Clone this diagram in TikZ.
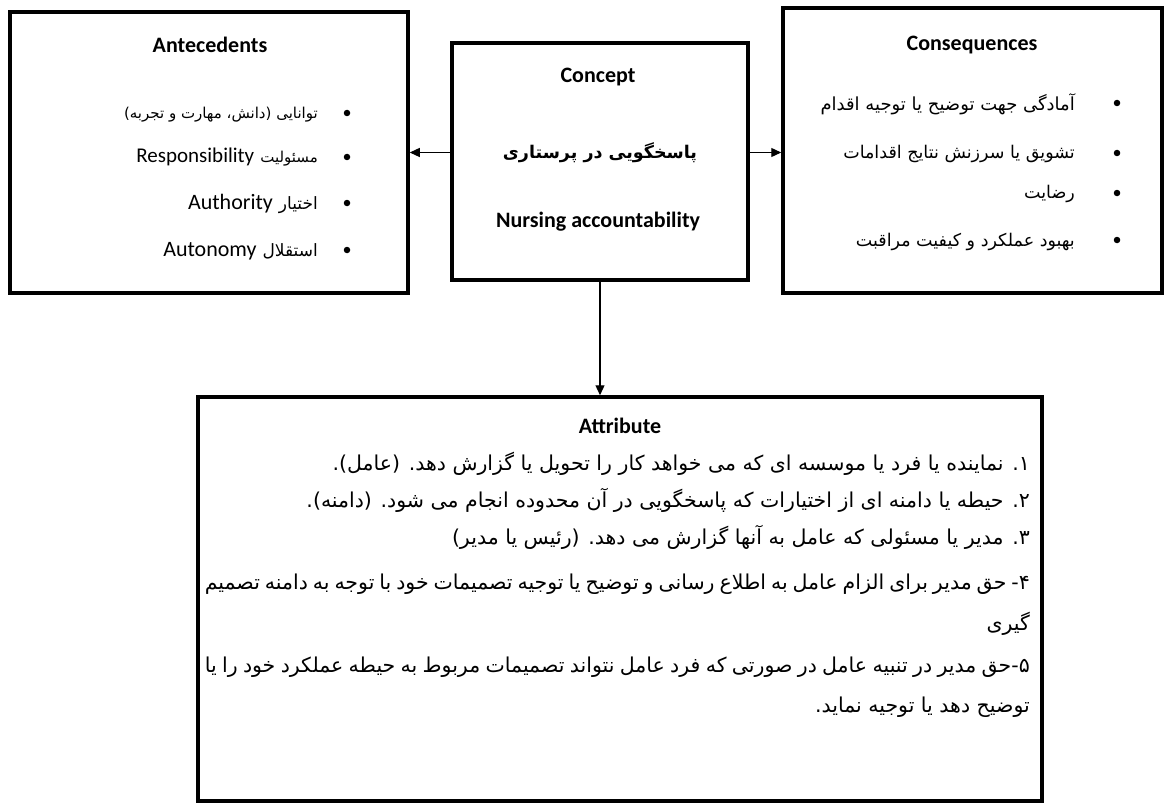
\documentclass[tikz,border=0pt]{standalone}
\usepackage{fontspec}
\setmainfont{Carlito}
\newfontfamily\fa[Script=Arabic]{DejaVu Sans}
\TeXXeTstate=1
\usetikzlibrary{arrows.meta}
\begin{document}
\begin{tikzpicture}[x=1pt,y=-1pt,
  box/.style={draw=black, line width=3.5pt, fill=white, inner sep=0pt},
  conn/.style={line width=1.3pt, -{Triangle[length=10pt,width=9pt]}},
  ttl/.style={inner sep=0pt, font=\fontsize{22}{26}\selectfont\bfseries},
  item/.style={anchor=base east, inner sep=0pt},
  bul/.style={circle, fill=black, inner sep=0pt, minimum size=6.5pt},
  attl/.style={anchor=base east, inner sep=0pt},
  attf/.style={font=\fa\fontsize{20.5}{24}\selectfont},
]
\useasboundingbox (0,0) rectangle (1166,805);
\fill[white] (0,0) rectangle (1166,805);

% boxes
\node[box, minimum width=398pt, minimum height=281pt] (ante) at (209,152.5) {};
\node[box, minimum width=296pt, minimum height=237pt] (concept) at (600,161.5) {};
\node[box, minimum width=379pt, minimum height=285pt] (cons) at (972.5,150.5) {};
\node[box, minimum width=844pt, minimum height=404pt] (attr) at (620,599) {};

% connectors
\draw[conn] (concept.west |- ante.east) -- (ante.east);
\draw[conn] (concept.east |- ante.east) -- (cons.west |- ante.east);
\draw[conn] (concept.south) -- (concept.south |- attr.north);

% Antecedents
\node[ttl] (anteT) at (210,45) {Antecedents};
\node[bul] (ab1) at (347,113) {};
\node[bul] (ab2) at (347,157) {};
\node[bul] (ab3) at (347,203) {};
\node[bul] (ab4) at (347,250) {};
\node[item] (a1) at (318,119) {\fa\fontsize{15}{18}\selectfont\beginR توانایی (دانش، مهارت و تجربه)\endR};
\node[item] (a2) at (318,163) {\beginR{\fa\fontsize{15}{18}\selectfont مسئولیت}\hspace{6pt}{\fontsize{21}{24}\selectfont Responsibility}\endR};
\node[item] (a3) at (318,209) {\beginR{\fa\fontsize{17}{20}\selectfont اختیار}\hspace{6pt}{\fontsize{22}{24}\selectfont Authority}\endR};
\node[item] (a4) at (318,256) {\beginR{\fa\fontsize{17}{20}\selectfont استقلال}\hspace{6pt}{\fontsize{22}{24}\selectfont Autonomy}\endR};

% Concept
\node[ttl] (conT) at (598,77) {Concept};
\node[inner sep=0pt] (conFa) at (600,153) {\fa\bfseries\fontsize{17.5}{22}\selectfont\beginR پاسخگویی در پرستاری\endR};
\node[ttl] (conEn) at (598,222) {Nursing accountability};

% Consequences
\node[ttl] (consT) at (972,45) {Consequences};
\node[bul] (cb1) at (1117,103) {};
\node[bul] (cb2) at (1117,153) {};
\node[bul] (cb3) at (1117,193) {};
\node[bul] (cb4) at (1117,240) {};
\node[item] (c1) at (1075,111) {\fa\fontsize{18}{20}\selectfont\beginR آمادگی جهت توضیح یا توجیه اقدام\endR};
\node[item] (c2) at (1075,159) {\fa\fontsize{17.5}{20}\selectfont\beginR تشویق یا سرزنش نتایج اقدامات\endR};
\node[item] (c3) at (1075,198) {\fa\fontsize{17.5}{20}\selectfont\beginR رضایت\endR};
\node[item] (c4) at (1075,246) {\fa\fontsize{17.5}{20}\selectfont\beginR بهبود عملکرد و کیفیت مراقبت\endR};

% Attribute
\node[ttl] (attT) at (620,426) {Attribute};
\node[attl, attf] (t1) at (1030,470) {\beginR ۱. نماینده یا فرد یا موسسه ای که می خواهد کار را تحویل یا گزارش دهد. (عامل).\endR};
\node[attl, attf] (t2) at (1030,507) {\beginR ۲. حیطه یا دامنه ای از اختیارات که پاسخگویی در آن محدوده انجام می شود. (دامنه).\endR};
\node[attl, attf] (t3) at (1030,544) {\beginR ۳. مدیر یا مسئولی که عامل به آنها گزارش می دهد. (رئیس یا مدیر)\endR};
\node[attl, attf] (t4) at (1030,589) {\hbox to 825pt{\spaceskip=.22em plus 1fil\beginR ۴- حق مدیر برای الزام عامل به اطلاع رسانی و توضیح یا توجیه تصمیمات خود با توجه به دامنه تصمیم\endR}};
\node[attl, attf] (t4b) at (1030,630) {\beginR گیری\endR};
\node[attl, attf] (t5) at (1030,672) {\hbox to 825pt{\spaceskip=.22em plus 1fil\beginR ۵-حق مدیر در تنبیه عامل در صورتی که فرد عامل نتواند تصمیمات مربوط به حیطه عملکرد خود را یا\endR}};
\node[attl, attf] (t5b) at (1030,712) {\beginR توضیح دهد یا توجیه نماید.\endR};
\end{tikzpicture}
\end{document}
